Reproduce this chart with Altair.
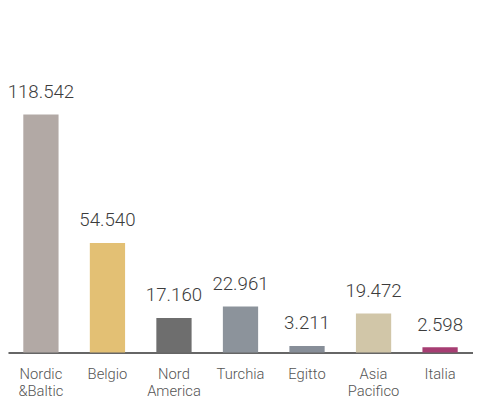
import altair as alt
import pandas as pd

categories = ["Nordic\n&Baltic", "Belgio", "Nord\nAmerica", "Turchia", "Egitto", "Asia\nPacifico", "Italia"]
values = [118.542, 54.540, 17.160, 22.961, 3.211, 19.472, 2.598]
labels = ["118.542", "54.540", "17.160", "22.961", "3.211", "19.472", "2.598"]
colors = ["#b2a9a5", "#e3c074", "#6e6e6e", "#8c939b", "#878e98", "#d1c6a8", "#a63d72"]

df = pd.DataFrame({"cat": categories, "val": values, "lab": labels, "col": colors})

FONT = "Roboto, sans-serif"

x = alt.X("cat:N", sort=categories,
          scale=alt.Scale(paddingInner=0.47, paddingOuter=0.23),
          axis=alt.Axis(title=None, labelAngle=0, ticks=False, domainColor="#333333",
                        domainWidth=1.5, labelPadding=15, labelFontSize=15, labelFont=FONT,
                        labelFontWeight=300, labelColor="#555555", labelLineHeight=17,
                        labelBaseline="top", labelOverlap=False,
                        labelExpr="split(datum.label, '\\n')"))
y = alt.Y("val:Q", scale=alt.Scale(domain=[0, 170]), axis=None)

bars = alt.Chart(df).mark_bar().encode(
    x=x, y=y, color=alt.Color("col:N", scale=None))
text = alt.Chart(df).mark_text(baseline="bottom", dy=-13, fontSize=19, font=FONT,
                               fontWeight=300, color="#3c3c3c").encode(x=x, y=y, text="lab:N")

chart = alt.layer(bars, text).properties(
    width=473, height=347,
    autosize=alt.AutoSizeParams(type="none"),
    padding={"left": 0, "top": 0, "right": 0, "bottom": 46},
).configure_view(stroke=None)

chart.save("out.html", embed_options={"renderer": "svg", "actions": False})
